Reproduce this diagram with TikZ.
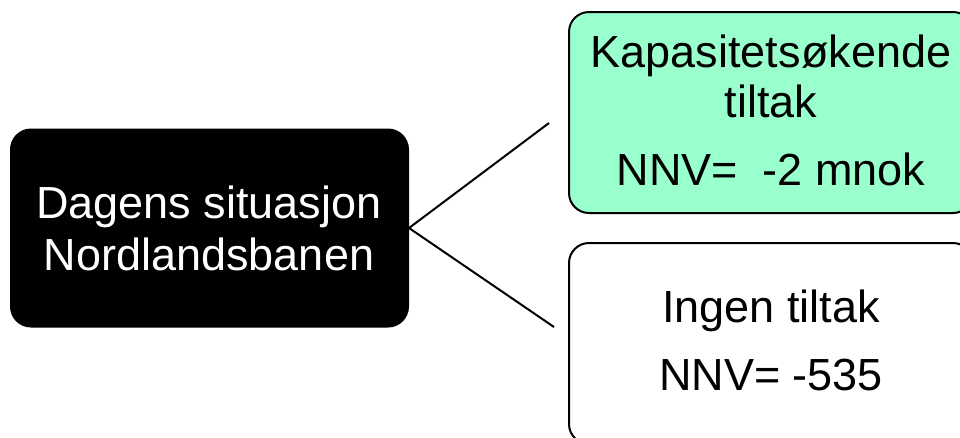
\documentclass[tikz,border=0pt]{standalone}
\usepackage{fontspec}
\setmainfont{Liberation Sans}
\definecolor{mint}{RGB}{153,255,204}
\begin{document}
\begin{tikzpicture}[x=1pt,y=-1pt,
  boxstyle/.style={draw=black,line width=2pt,rounded corners=20pt,inner sep=0pt},
  txt/.style={anchor=base,inner sep=0pt,font=\fontsize{45}{54}\selectfont},
  conn/.style={draw=black,line width=2pt}]
\useasboundingbox (0,0) rectangle (960,437);
\clip (0,0) rectangle (960,437);
\node[boxstyle,fill=black,minimum width=397pt,minimum height=197pt] (left) at (209.5,228) {};
\node[boxstyle,fill=mint,minimum width=404pt,minimum height=201pt] (top) at (771,112.5) {};
\node[boxstyle,fill=white,minimum width=404pt,minimum height=201pt] (bot) at (771,343.5) {};
\node[txt,text=white] (l1) at (209,218) {Dagens situasjon};
\node[txt,text=white] (l2) at (209,270) {Nordlandsbanen};
\node[txt] (t1) at (771,67) {Kapasitetsøkende};
\node[txt] (t2) at (771,117) {tiltak};
\node[txt] (t3) at (771,185) {NNV=\ \ -2 mnok};
\node[txt] (b1) at (771,322) {Ingen tiltak};
\node[txt] (b2) at (771,390) {NNV= -535};
\coordinate (ct) at (549,123);
\coordinate (cb) at (554,327);
\draw[conn] (left.east) -- (ct);
\draw[conn] (left.east) -- (cb);
\end{tikzpicture}
\end{document}
